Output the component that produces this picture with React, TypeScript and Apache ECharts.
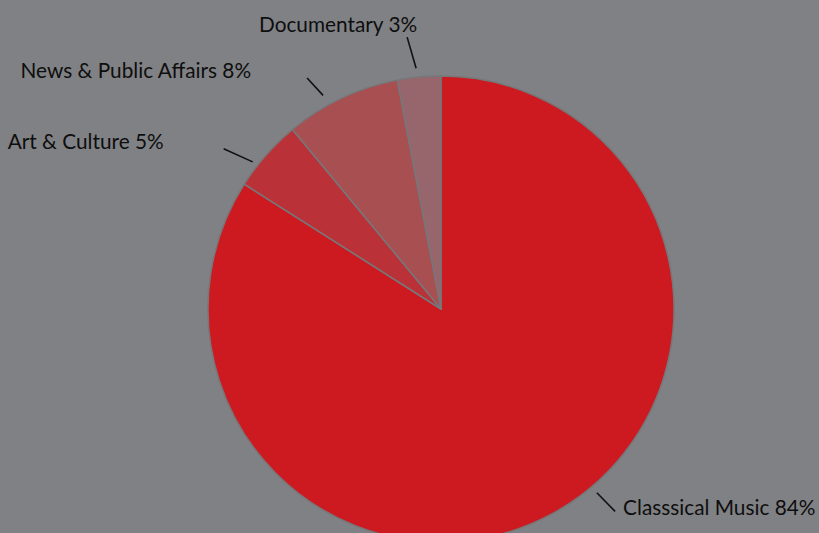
import React, { useEffect, useRef } from "react";
import * as echarts from "echarts";

const categories = ["Classsical Music", "Art & Culture", "News & Public Affairs", "Documentary"];
const shares = [84, 5, 8, 3];
const colors = ["#cc1a20", "#ba3238", "#a84f52", "#97666c"];

// label line geometry (polar, relative to pie centre): [rIn, angleOffsetIn, rOut, angleOffsetOut]
const lineGeom = [
  [241, -11.5, 267, -11.9],
  [239, -3.4, 270, -5.0],
  [244, -3.7, 267, -4.9],
  [242, -0.5, 274, -1.7],
];
// label placement relative to the line's outer end: [dx, dy, align]
const labelOffset: [number, number, string][] = [
  [8, -5, "left"],
  [-60, -8, "right"],
  [-56, -9, "right"],
  [10, -13.5, "right"],
];

const CX = 441;
const CY = 309;
const R = 233;

export default function App() {
  const ref = useRef<HTMLDivElement>(null);
  useEffect(() => {
    if (!ref.current) return;
    const chart = echarts.init(ref.current, undefined, { renderer: "svg" });
    const total = shares.reduce((a, b) => a + b, 0);
    const mids: number[] = [];
    let acc = 0;
    shares.forEach((v) => {
      mids.push(((acc + v / 2) / total) * 360);
      acc += v;
    });
    const polar = (r: number, deg: number) => {
      const a = (deg * Math.PI) / 180;
      return [CX + r * Math.sin(a), CY - r * Math.cos(a)];
    };
    chart.setOption({
      animation: false,
      backgroundColor: "#808184",
      series: [
        {
          type: "pie",
          center: [CX, CY],
          radius: [0, R],
          startAngle: 90,
          clockwise: true,
          avoidLabelOverlap: false,
          silent: true,
          itemStyle: { borderColor: "#76777a", borderWidth: 1.5 },
          label: {
            show: true,
            position: "outside",
            formatter: (p: any) => `${p.name} ${p.value}%`,
            color: "#0e0e0e",
            fontFamily: "Lato",
            fontSize: 20.8,
          },
          labelLine: {
            show: true,
            length: 20,
            length2: 0,
            lineStyle: { color: "#111111", width: 1.6 },
          },
          labelLayout: (params: any) => {
            const i = params.dataIndex;
            const g = lineGeom[i];
            const p0 = polar(g[0], mids[i] + g[1]);
            const p1 = polar(g[2], mids[i] + g[3]);
            const o = labelOffset[i];
            return {
              x: p1[0] + o[0],
              y: p1[1] + o[1],
              align: o[2],
              verticalAlign: "middle",
              labelLinePoints: [p0, p1, p1],
            };
          },
          data: categories.map((c, i) => ({
            name: c,
            value: shares[i],
            itemStyle: { color: colors[i] },
          })),
        },
      ],
    });
    return () => chart.dispose();
  }, []);
  return (
    <div
      ref={ref}
      style={{ position: "fixed", left: 0, top: 0, width: 819, height: 533 }}
    />
  );
}
